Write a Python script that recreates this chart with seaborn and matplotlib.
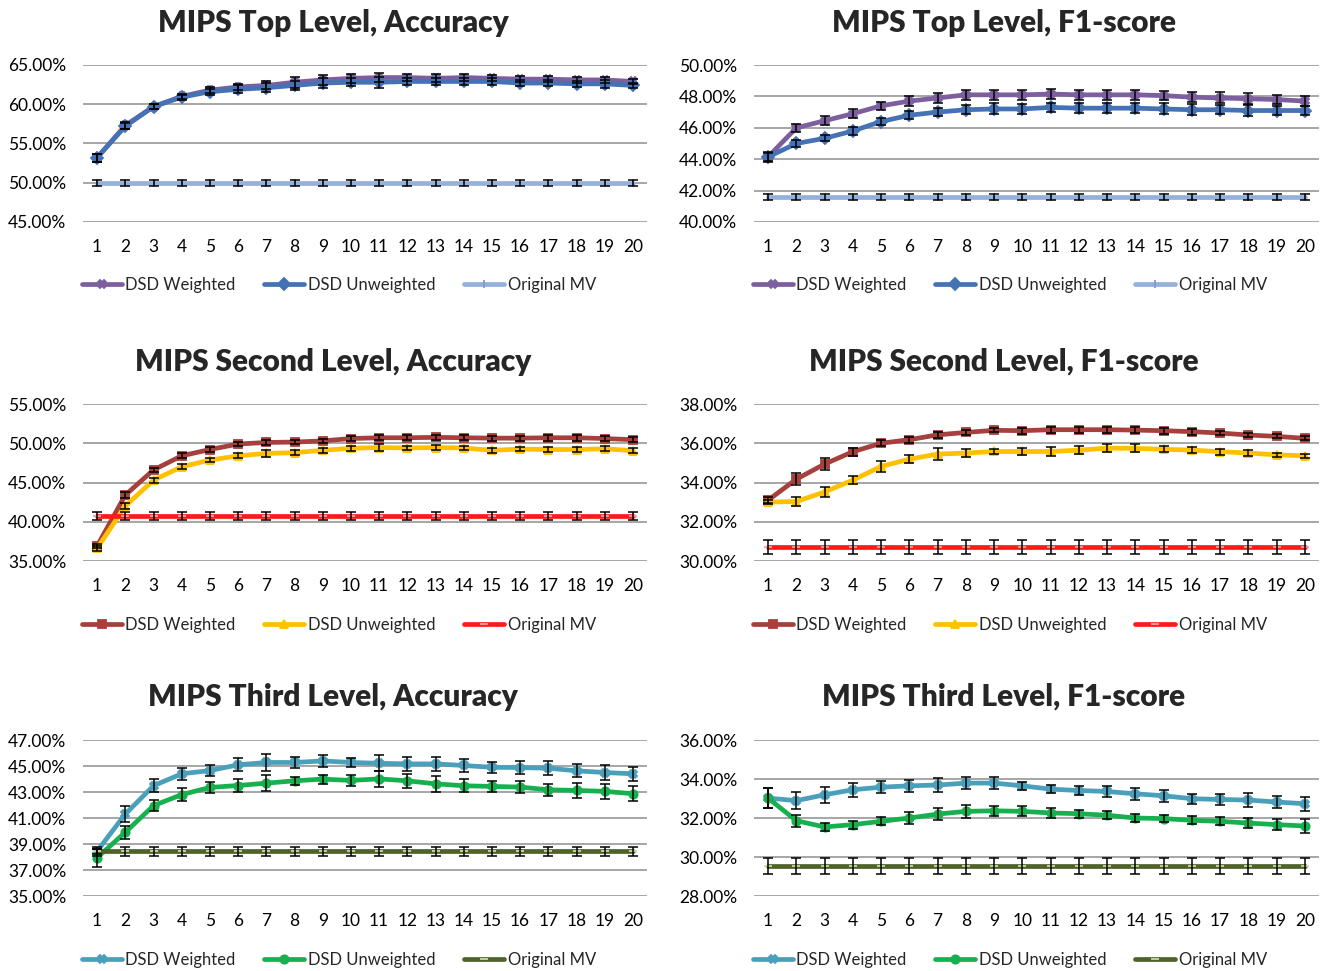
import numpy as np
import pandas as pd
import matplotlib
matplotlib.use("Agg")
import matplotlib.pyplot as plt
from matplotlib.ticker import FuncFormatter
import seaborn as sns

# x positions shared by all panels
steps = list(range(1, 21))

# ---- MIPS Top Level, Accuracy
top_acc_w = [53.2, 57.3, 59.7, 61.0, 61.8, 62.2, 62.4, 62.8, 63.1, 63.3,
             63.4, 63.4, 63.3, 63.4, 63.3, 63.2, 63.2, 63.1, 63.1, 62.9]
top_acc_u = [53.2, 57.2, 59.7, 60.9, 61.6, 61.9, 62.1, 62.4, 62.7, 62.8,
             62.8, 62.9, 62.9, 62.9, 62.9, 62.7, 62.7, 62.6, 62.6, 62.4]
top_acc_o = [50.0] * 20
top_acc_w_err = [0.5, 0.4, 0.3, 0.3, 0.4, 0.4, 0.5, 0.7, 0.6, 0.6,
                 0.6, 0.5, 0.5, 0.5, 0.4, 0.4, 0.4, 0.4, 0.4, 0.3]
top_acc_u_err = [0.5, 0.4, 0.3, 0.3, 0.4, 0.5, 0.6, 0.6, 0.6, 0.5,
                 0.7, 0.5, 0.5, 0.5, 0.4, 0.4, 0.4, 0.4, 0.5, 0.3]
top_acc_o_err = 0.4

# ---- MIPS Top Level, F1-score
top_f1_w = [44.15, 46.0, 46.45, 46.9, 47.4, 47.7, 47.9, 48.1, 48.1, 48.1,
            48.15, 48.1, 48.1, 48.1, 48.05, 47.95, 47.9, 47.85, 47.8, 47.7]
top_f1_u = [44.15, 45.0, 45.33, 45.8, 46.4, 46.8, 47.0, 47.15, 47.2, 47.2,
            47.3, 47.25, 47.25, 47.25, 47.2, 47.15, 47.15, 47.1, 47.1, 47.1]
top_f1_o = [41.6] * 20
top_f1_w_err = [0.25, 0.25, 0.3, 0.3, 0.25, 0.3, 0.3, 0.3, 0.3, 0.3,
                0.3, 0.3, 0.3, 0.3, 0.3, 0.3, 0.35, 0.35, 0.3, 0.3]
top_f1_u_err = [0.3, 0.2, 0.2, 0.25, 0.25, 0.25, 0.25, 0.3, 0.35, 0.3,
                0.3, 0.3, 0.3, 0.3, 0.35, 0.35, 0.3, 0.35, 0.3, 0.3]
top_f1_o_err = 0.2

# ---- MIPS Second Level, Accuracy
sec_acc_w = [36.9, 43.4, 46.6, 48.4, 49.2, 49.9, 50.1, 50.15, 50.3, 50.6,
             50.7, 50.7, 50.75, 50.7, 50.65, 50.65, 50.7, 50.7, 50.6, 50.45]
sec_acc_u = [36.6, 42.0, 45.3, 47.0, 47.85, 48.4, 48.7, 48.8, 49.1, 49.35,
             49.45, 49.4, 49.45, 49.4, 49.1, 49.25, 49.2, 49.2, 49.3, 49.05]
sec_acc_o = [40.75] * 20
sec_acc_w_err = [0.3, 0.4, 0.3, 0.3, 0.3, 0.3, 0.3, 0.3, 0.3, 0.3,
                 0.3, 0.3, 0.3, 0.3, 0.3, 0.3, 0.35, 0.35, 0.3, 0.3]
sec_acc_u_err = [0.3, 0.4, 0.3, 0.3, 0.3, 0.3, 0.4, 0.3, 0.3, 0.3,
                 0.4, 0.3, 0.3, 0.3, 0.3, 0.3, 0.3, 0.3, 0.3, 0.3]
sec_acc_o_err = 0.5

# ---- MIPS Second Level, F1-score
sec_f1_w = [33.1, 34.17, 34.94, 35.57, 36.0, 36.18, 36.43, 36.55, 36.66, 36.64,
            36.69, 36.69, 36.69, 36.67, 36.64, 36.59, 36.52, 36.42, 36.35, 36.25]
sec_f1_u = [33.0, 33.03, 33.52, 34.12, 34.82, 35.19, 35.45, 35.5, 35.58, 35.58,
            35.58, 35.65, 35.75, 35.74, 35.69, 35.65, 35.57, 35.5, 35.41, 35.36]
sec_f1_o = [30.72] * 20
sec_f1_w_err = [0.15, 0.3, 0.3, 0.2, 0.15, 0.15, 0.15, 0.15, 0.1, 0.15,
                0.15, 0.15, 0.15, 0.15, 0.15, 0.15, 0.1, 0.1, 0.1, 0.1]
sec_f1_u_err = [0.1, 0.25, 0.25, 0.2, 0.3, 0.2, 0.3, 0.2, 0.15, 0.2,
                0.25, 0.2, 0.2, 0.2, 0.15, 0.15, 0.15, 0.15, 0.1, 0.1]
sec_f1_o_err = 0.35

# ---- MIPS Third Level, Accuracy
thr_acc_w = [38.45, 41.3, 43.48, 44.4, 44.65, 45.09, 45.27, 45.27, 45.39, 45.27,
             45.21, 45.16, 45.16, 45.04, 44.9, 44.88, 44.83, 44.63, 44.5, 44.4]
thr_acc_u = [37.95, 39.9, 41.95, 42.8, 43.35, 43.5, 43.68, 43.86, 43.99, 43.89,
             44.01, 43.86, 43.63, 43.48, 43.43, 43.38, 43.17, 43.12, 43.05, 42.87]
thr_acc_o = [38.45] * 20
thr_acc_w_err = [0.2, 0.6, 0.5, 0.45, 0.4, 0.5, 0.65, 0.45, 0.45, 0.35,
                 0.6, 0.55, 0.55, 0.5, 0.4, 0.5, 0.55, 0.5, 0.6, 0.55]
thr_acc_u_err = [0.7, 0.5, 0.4, 0.5, 0.4, 0.5, 0.6, 0.3, 0.35, 0.4,
                 0.6, 0.55, 0.6, 0.5, 0.4, 0.45, 0.45, 0.55, 0.55, 0.6]
thr_acc_o_err = 0.35

# ---- MIPS Third Level, F1-score
thr_f1_w = [33.02, 32.89, 33.19, 33.45, 33.58, 33.65, 33.69, 33.79, 33.79, 33.65,
            33.48, 33.41, 33.36, 33.24, 33.14, 32.99, 32.95, 32.92, 32.82, 32.73]
thr_f1_u = [33.02, 31.86, 31.54, 31.66, 31.83, 32.0, 32.2, 32.34, 32.37, 32.34,
            32.26, 32.22, 32.14, 32.0, 31.97, 31.88, 31.83, 31.74, 31.66, 31.59]
thr_f1_o = [29.53] * 20
thr_f1_w_err = [0.5, 0.45, 0.4, 0.35, 0.3, 0.3, 0.35, 0.3, 0.3, 0.2,
                0.2, 0.25, 0.3, 0.3, 0.3, 0.25, 0.3, 0.35, 0.3, 0.35]
thr_f1_u_err = [0.5, 0.3, 0.2, 0.2, 0.2, 0.3, 0.3, 0.35, 0.25, 0.25,
                0.25, 0.2, 0.2, 0.2, 0.2, 0.2, 0.2, 0.25, 0.3, 0.35]
thr_f1_o_err = 0.4

series_names = ["DSD Weighted", "DSD Unweighted", "Original MV"]

# per row: line colours, markers, marker edge colours
row_styles = [
    {"colors": ["#7D5FA0", "#4472B4", "#95B0DA"], "markers": ["X", "D", "|"],
     "edges": ["#7D5FA0", "#4472B4", "#7F9CCB"]},
    {"colors": ["#A5403C", "#FFC000", "#FF1A1A"], "markers": ["s", "^", "_"],
     "edges": ["#A5403C", "#FFC000", "#F7A0A0"]},
    {"colors": ["#4A9FBA", "#17B04F", "#4F6228"], "markers": ["X", "o", "_"],
     "edges": ["#4A9FBA", "#17B04F", "#C9DA9E"]},
]

panels = [
    ("MIPS Top Level, Accuracy", top_acc_w, top_acc_u, top_acc_o,
     top_acc_w_err, top_acc_u_err, top_acc_o_err, (45, 65), 5),
    ("MIPS Top Level, F1-score", top_f1_w, top_f1_u, top_f1_o,
     top_f1_w_err, top_f1_u_err, top_f1_o_err, (40, 50), 2),
    ("MIPS Second Level, Accuracy", sec_acc_w, sec_acc_u, sec_acc_o,
     sec_acc_w_err, sec_acc_u_err, sec_acc_o_err, (35, 55), 5),
    ("MIPS Second Level, F1-score", sec_f1_w, sec_f1_u, sec_f1_o,
     sec_f1_w_err, sec_f1_u_err, sec_f1_o_err, (30, 38), 2),
    ("MIPS Third Level, Accuracy", thr_acc_w, thr_acc_u, thr_acc_o,
     thr_acc_w_err, thr_acc_u_err, thr_acc_o_err, (35, 47), 2),
    ("MIPS Third Level, F1-score", thr_f1_w, thr_f1_u, thr_f1_o,
     thr_f1_w_err, thr_f1_u_err, thr_f1_o_err, (28, 36), 2),
]

sns.set_theme(style="white")
plt.rcParams["font.family"] = ["Lato", "DejaVu Sans"]

W, H = 1321, 971
fig = plt.figure(figsize=(W / 100, H / 100), dpi=100)

# pixel boxes of the plot areas: (left, right), (top, bottom)
col_px = [(83, 647), (754, 1319)]
row_px = [(65, 222), (404, 561), (740, 896)]
title_x = [333, 1004]
title_y = [23, 362, 697]
legend_y = [285, 625, 960]

for i, (title, w, u, o, we, ue, oe, ylim, ystep) in enumerate(panels):
    r, c = divmod(i, 2)
    (x0, x1), (y0, y1) = col_px[c], row_px[r]
    ax = fig.add_axes([x0 / W, 1 - y1 / H, (x1 - x0) / W, (y1 - y0) / H])
    style = row_styles[r]

    for k, (name, vals, errs) in enumerate(zip(series_names, (w, u, o), (we, ue, oe))):
        sns.lineplot(
            x=steps, y=vals, color=style["colors"][k], marker=style["markers"][k],
            markersize=6, markeredgecolor=style["edges"][k], markeredgewidth=1.3,
            linewidth=3.4, label=name, ax=ax, zorder=3,
        )
        ax.errorbar(steps, vals, yerr=errs, fmt="none", ecolor="black",
                    elinewidth=1.1, capsize=3.5, capthick=1.1, zorder=4)

    ax.set_xlim(0.5, 20.5)
    ax.set_ylim(*ylim)
    ax.set_yticks(np.arange(ylim[0], ylim[1] + 0.01, ystep))
    ax.yaxis.set_major_formatter(FuncFormatter(lambda v, p: f"{v:.2f}%"))
    ax.set_xticks(steps)
    ax.grid(axis="y", color="#A6A6A6", linewidth=1.4, zorder=0)
    ax.grid(axis="x", visible=False)
    for sp in ax.spines.values():
        sp.set_visible(False)
    ax.tick_params(axis="both", length=0, labelsize=12.5, colors="black")
    ax.tick_params(axis="x", pad=12)
    ax.tick_params(axis="y", pad=12)
    ax.set_xlabel("")
    ax.set_ylabel("")
    ax.set_facecolor("white")

    handles, labels = ax.get_legend_handles_labels()
    ax.legend(handles, labels, loc="center left", ncol=3, frameon=False,
              bbox_to_anchor=(x0 / W - 0.001, 1 - legend_y[r] / H),
              bbox_transform=fig.transFigure, fontsize=12,
              handlelength=2.4, handletextpad=0.2, columnspacing=1.75,
              borderaxespad=0, borderpad=0)

    fig.text(title_x[c] / W, 1 - title_y[r] / H, title, ha="center", va="center",
             fontsize=21.5, fontweight="heavy")

fig.savefig("out.png", dpi=100, facecolor="white")
